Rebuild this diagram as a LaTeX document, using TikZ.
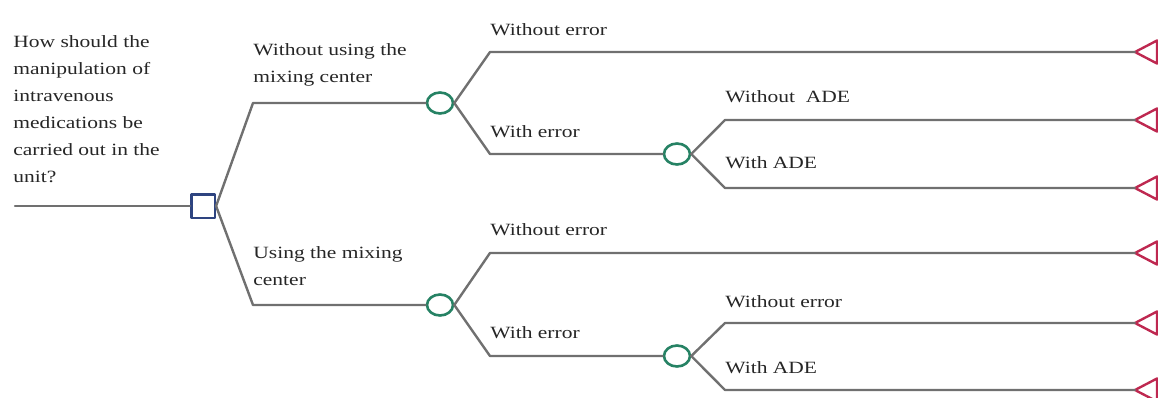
\documentclass[tikz,border=0pt]{standalone}
\usepackage{fontspec}
\newfontfamily\treefont[FakeStretch=1.25]{Liberation Serif}
\usetikzlibrary{shapes.geometric}
\definecolor{branchgray}{RGB}{112,112,112}
\definecolor{decblue}{RGB}{46,68,128}
\definecolor{chgreen}{RGB}{38,130,100}
\definecolor{termred}{RGB}{190,40,80}
\definecolor{labelgray}{RGB}{38,38,38}

\begin{document}
\begin{tikzpicture}[x=.5pt, y=-.5pt, line cap=round, line join=round, every node/.style={font=\treefont\fontsize{8.6}{13.5}\selectfont, text=labelgray}]
  \tikzset{branch/.style={draw=branchgray, line width=1.2pt},
    decision/.style={draw=decblue, rectangle, line width=1.3pt, minimum size=11.8pt, inner sep=0pt},
    chance/.style={draw=chgreen, ellipse, line width=1.3pt, minimum width=13pt, minimum height=10.5pt, inner sep=0pt},
    terminal/.style={draw=termred, line width=1.2pt},
    lbl/.style={anchor=base west, inner sep=0pt},
    blk/.style={anchor=north west, inner sep=0pt, align=left}}
  \useasboundingbox (0,0) rectangle (1158,397);

  % decision and chance nodes
  \coordinate (root) at (15,206);
  \node[decision] (d) at (203,206) {};
  \node[chance] (c1) at (440,103) {};
  \node[chance] (c2) at (440,305) {};
  \node[chance] (c11) at (677,154) {};
  \node[chance] (c21) at (677,356) {};

  % terminal tips
  \foreach \n/\y in {1/52,2/120,3/188,4/253,5/323,6/390} {
    \coordinate (t\n) at (1135,\y);
    \draw[terminal] (t\n) -- ++(22,-11.5) -- ++(0,23) -- cycle;
  }

  % branches
  \draw[branch] (root) -- (d);
  \foreach \a/\b/\bx/\by in {d/c1/253/103,d/c2/253/305,c1/t1/490/52,c1/c11/490/154,c11/t2/725/120,c11/t3/725/188,c2/t4/490/253,c2/c21/490/356,c21/t5/725/323,c21/t6/725/390}
    \draw[branch] (\a.east) -- (\bx,\by) -- (\b);

  % labels
  \node[blk] (q) at (13,35) {How should the\\manipulation of\\intravenous\\medications be\\carried out in the\\unit?};
  \node[blk] (lnm) at (253,43) {Without using the\\mixing center};
  \node[blk] (lm) at (253,246) {Using the mixing\\center};
  \node[lbl] (l1) at (490,35) {Without error};
  \node[lbl] (l2) at (490,137) {With error};
  \node[lbl] (l3) at (725,102) {Without\ \ ADE};
  \node[lbl] (l4) at (725,168) {With ADE};
  \node[lbl] (l5) at (490,235) {Without error};
  \node[lbl] (l6) at (490,338) {With error};
  \node[lbl] (l7) at (725,307) {Without error};
  \node[lbl] (l8) at (725,373) {With ADE};
\end{tikzpicture}
\end{document}
